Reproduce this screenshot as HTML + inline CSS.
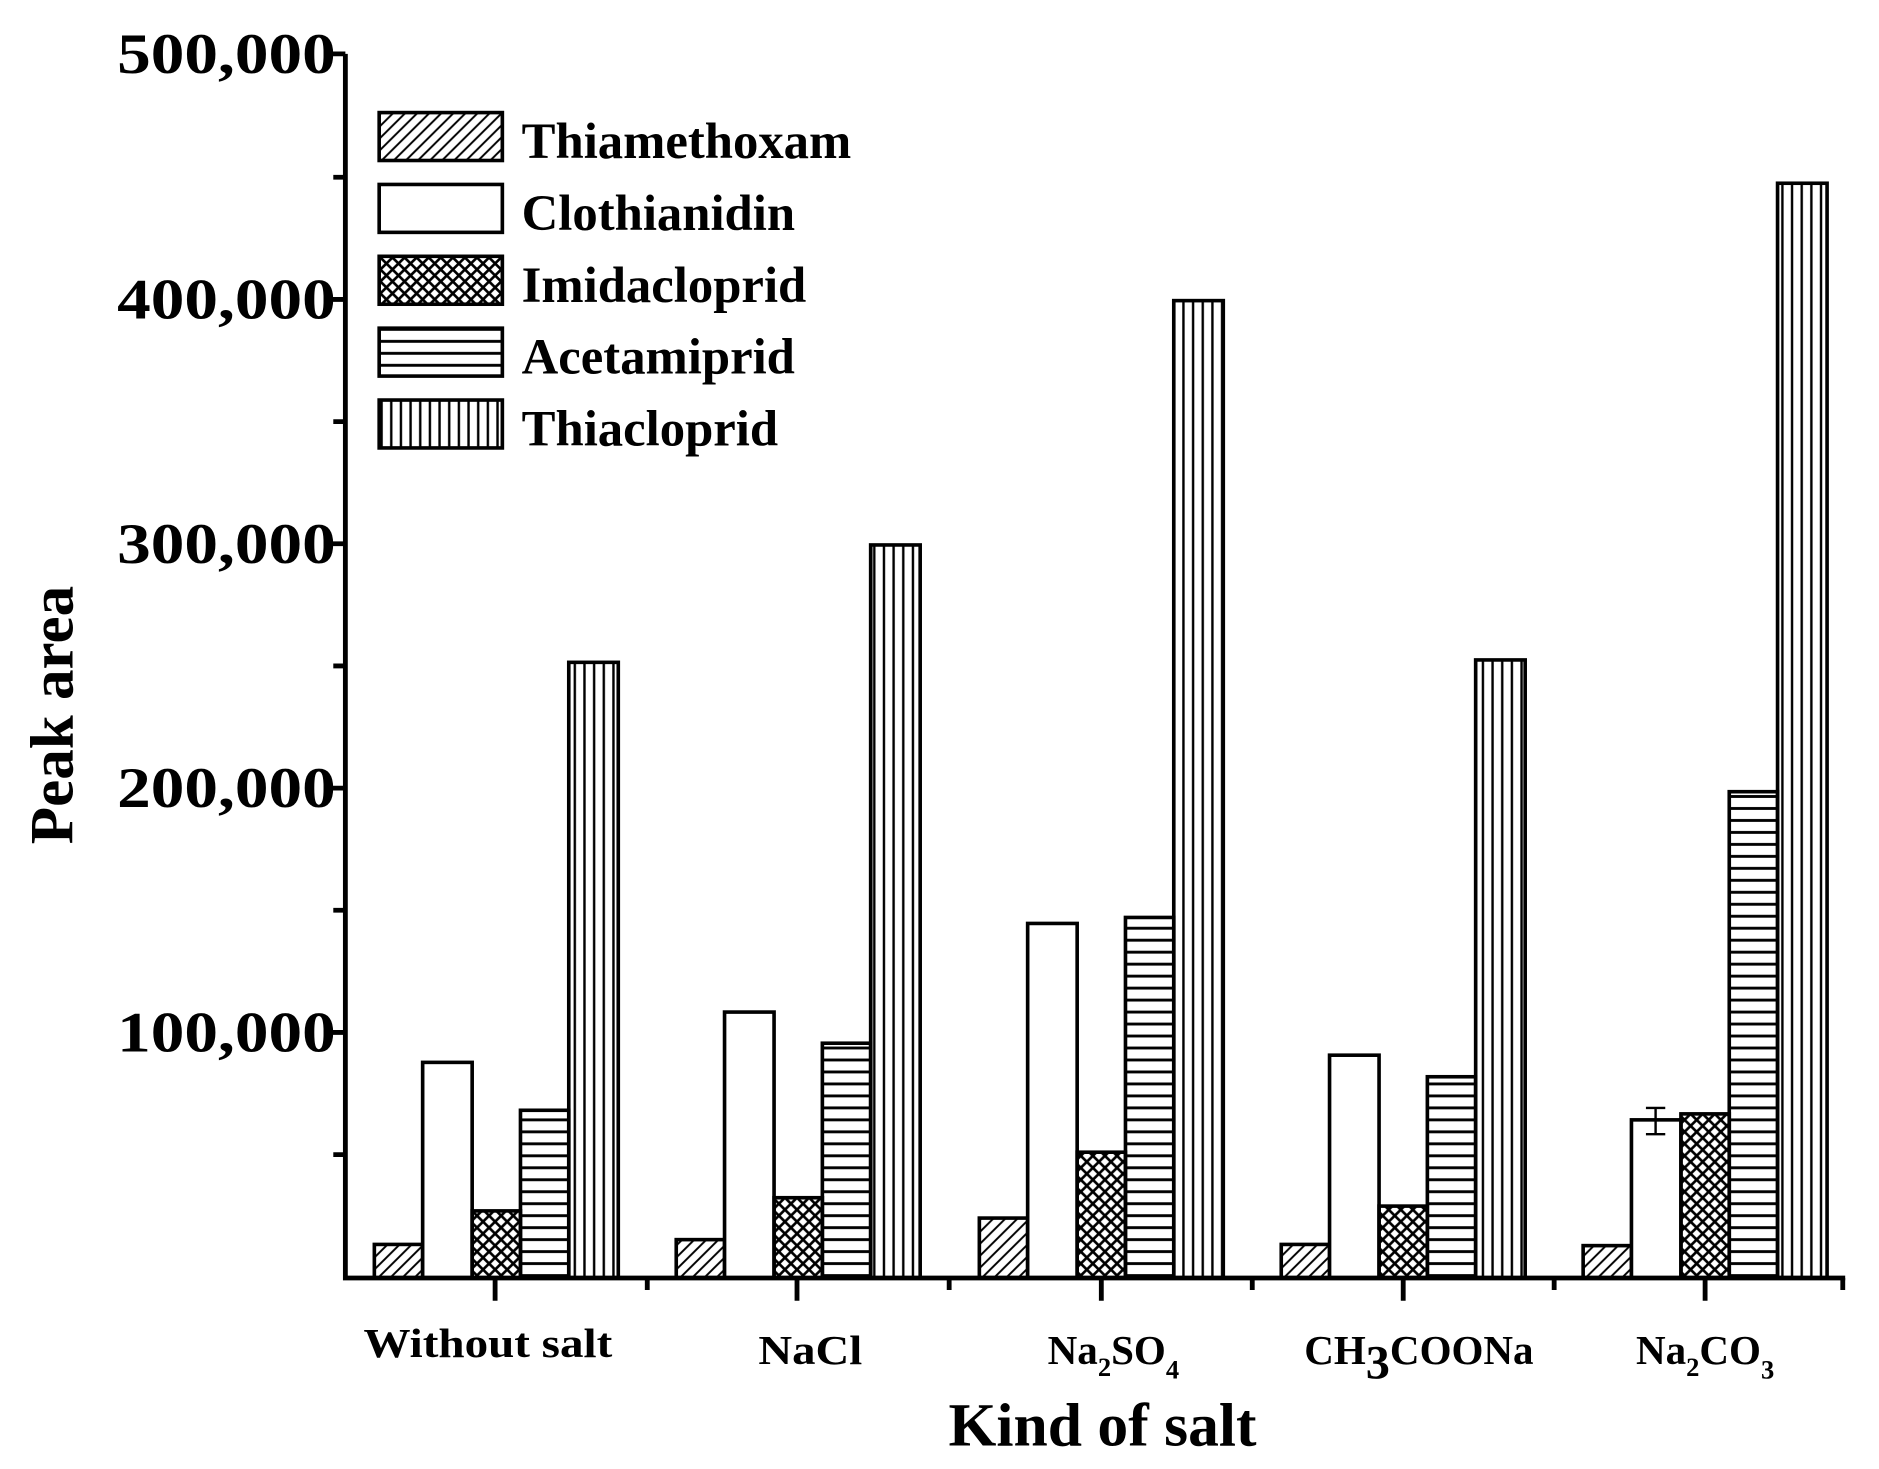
<!DOCTYPE html>
<html><head><meta charset="utf-8"><style>
html,body{margin:0;padding:0;background:#fff;}
svg{display:block;}
text{font-family:"Liberation Serif",serif;font-weight:bold;fill:#000;}
</style></head><body>
<svg width="1879" height="1469" viewBox="0 0 1556 1226.5" preserveAspectRatio="none" xmlns="http://www.w3.org/2000/svg">
<defs>
<pattern id="diag" width="10" height="10" patternUnits="userSpaceOnUse">
<path d="M-2,12 L12,-2 M-2,2 L2,-2 M8,12 L12,8" stroke="#000" stroke-width="1.6"/></pattern>
<pattern id="cross" width="10" height="10" patternUnits="userSpaceOnUse">
<path d="M-1,11 L11,-1 M-1,-1 L11,11 M-1,1 L1,-1 M9,11 L11,9 M-1,9 L1,11 M9,-1 L11,1" stroke="#000" stroke-width="2.2"/></pattern>
<pattern id="horiz" width="10" height="10" patternUnits="userSpaceOnUse">
<path d="M0,5 L10,5" stroke="#000" stroke-width="2.4"/></pattern>
<pattern id="vert" width="8" height="10" patternUnits="userSpaceOnUse">
<path d="M4,0 L4,10" stroke="#000" stroke-width="2"/></pattern>
</defs>
<g stroke="#000" stroke-width="3">
<rect x="310" y="1039" width="40" height="28" fill="url(#diag)"/>
<rect x="350" y="887" width="41" height="180" fill="#fff"/>
<rect x="391" y="1011" width="40" height="56" fill="url(#cross)"/>
<rect x="431" y="927" width="40" height="140" fill="url(#horiz)"/>
<rect x="471" y="553" width="41" height="514" fill="url(#vert)"/>
<rect x="560" y="1035" width="40" height="32" fill="url(#diag)"/>
<rect x="600" y="845" width="41" height="222" fill="#fff"/>
<rect x="641" y="1000" width="40" height="67" fill="url(#cross)"/>
<rect x="681" y="871" width="40" height="196" fill="url(#horiz)"/>
<rect x="721" y="455" width="41" height="612" fill="url(#vert)"/>
<rect x="811" y="1017" width="40" height="50" fill="url(#diag)"/>
<rect x="851" y="771" width="41" height="296" fill="#fff"/>
<rect x="892" y="962" width="40" height="105" fill="url(#cross)"/>
<rect x="932" y="766" width="40" height="301" fill="url(#horiz)"/>
<rect x="972" y="251" width="41" height="816" fill="url(#vert)"/>
<rect x="1061" y="1039" width="40" height="28" fill="url(#diag)"/>
<rect x="1101" y="881" width="41" height="186" fill="#fff"/>
<rect x="1142" y="1007" width="40" height="60" fill="url(#cross)"/>
<rect x="1182" y="899" width="40" height="168" fill="url(#horiz)"/>
<rect x="1222" y="551" width="41" height="516" fill="url(#vert)"/>
<rect x="1311" y="1040" width="40" height="27" fill="url(#diag)"/>
<rect x="1351" y="935" width="41" height="132" fill="#fff"/>
<rect x="1392" y="930" width="40" height="137" fill="url(#cross)"/>
<rect x="1432" y="661" width="40" height="406" fill="url(#horiz)"/>
<rect x="1472" y="153" width="41" height="914" fill="url(#vert)"/>
<path d="M1371,925 L1371,947 M1363,925 L1379,925 M1363,947 L1379,947" fill="none" stroke-width="2"/>
<rect x="314" y="94" width="102" height="40" fill="url(#diag)"/>
<rect x="314" y="154" width="102" height="40" fill="#fff"/>
<rect x="314" y="214" width="102" height="40" fill="url(#cross)"/>
<rect x="314" y="274" width="102" height="40" fill="url(#horiz)"/>
<rect x="314" y="334" width="102" height="40" fill="url(#vert)"/>
</g>
<g stroke="#000" stroke-width="4" fill="none">
<path d="M286,45 L286,1067 L1528,1067"/>
<path d="M268,45 L286,45 M268,250 L286,250 M268,454 L286,454 M268,658 L286,658 M268,862 L286,862 M276,148 L286,148 M276,352 L286,352 M276,556 L286,556 M276,760 L286,760 M276,964 L286,964"/>
<path d="M410,1067 L410,1086 M660,1067 L660,1086 M912,1067 L912,1086 M1162,1067 L1162,1086 M1412,1067 L1412,1086 M536,1067 L536,1077 M786,1067 L786,1077 M1037,1067 L1037,1077 M1287,1067 L1287,1077 M1526,1067 L1526,1077"/>
</g>
<g font-size="48">
<text x="97" y="61" textLength="181" lengthAdjust="spacingAndGlyphs">500,000</text>
<text x="97" y="266" textLength="181" lengthAdjust="spacingAndGlyphs">400,000</text>
<text x="97" y="470" textLength="181" lengthAdjust="spacingAndGlyphs">300,000</text>
<text x="97" y="674" textLength="181" lengthAdjust="spacingAndGlyphs">200,000</text>
<text x="97" y="878" textLength="181" lengthAdjust="spacingAndGlyphs">100,000</text>
</g>
<g font-size="42">
<text x="432" y="132">Thiamethoxam</text>
<text x="432" y="192">Clothianidin</text>
<text x="432" y="252">Imidacloprid</text>
<text x="432" y="312">Acetamiprid</text>
<text x="432" y="372">Thiacloprid</text>
</g>
<g font-size="34" text-anchor="middle">
<text x="404" y="1133" textLength="206" lengthAdjust="spacingAndGlyphs">Without salt</text>
<text x="671" y="1139" textLength="86" lengthAdjust="spacingAndGlyphs">NaCl</text>
<text x="922" y="1139">Na<tspan font-size="22" dy="10">2</tspan><tspan dy="-10">SO</tspan><tspan font-size="22" dy="12">4</tspan></text>
<text x="1175" y="1139">CH<tspan font-size="40" dy="12">3</tspan><tspan dy="-12">COONa</tspan></text>
<text x="1412" y="1139">Na<tspan font-size="22" dy="10">2</tspan><tspan dy="-10">CO</tspan><tspan font-size="22" dy="12">3</tspan></text>
</g>
<text x="913" y="1207" font-size="51" text-anchor="middle">Kind of salt</text>
<text transform="translate(60,597) rotate(-90)" font-size="51" text-anchor="middle">Peak area</text>
</svg>
</body></html>
